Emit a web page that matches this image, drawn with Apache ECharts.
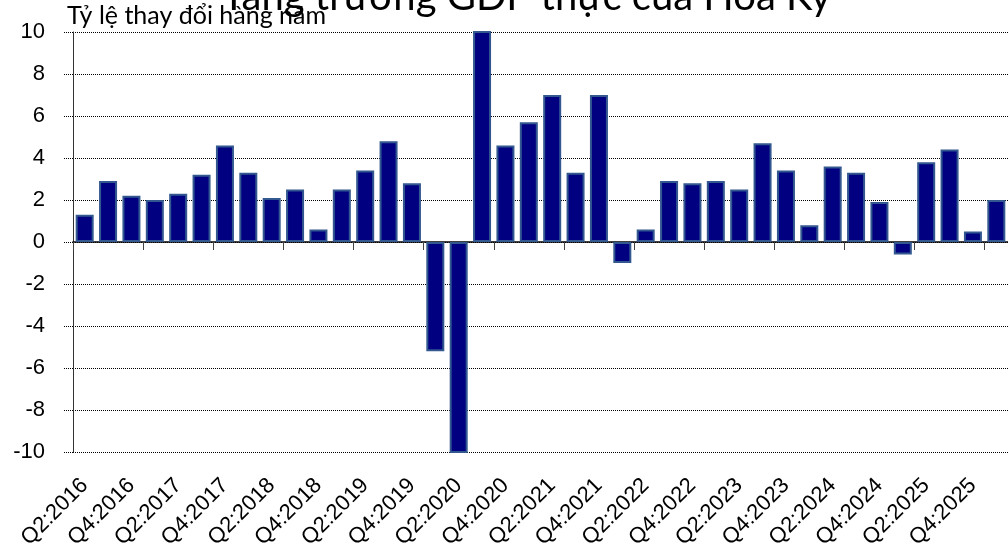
<!DOCTYPE html>
<html>
<head>
<meta charset="utf-8">
<script src="https://cdn.jsdelivr.net/npm/echarts@6/dist/echarts.min.js"></script>
<style>html,body{margin:0;padding:0;background:#fff}#c{width:1008px;height:554px}</style>
</head>
<body>
<div id="c"></div>
<script>
var titleText = 'Tăng trưởng GDP thực của Hoa Kỳ';
var yAxisTitle = 'Tỷ lệ thay đổi hàng năm';
var quarters = [
  'Q2:2016','Q3:2016','Q4:2016','Q1:2017','Q2:2017','Q3:2017','Q4:2017','Q1:2018',
  'Q2:2018','Q3:2018','Q4:2018','Q1:2019','Q2:2019','Q3:2019','Q4:2019','Q1:2020',
  'Q2:2020','Q3:2020','Q4:2020','Q1:2021','Q2:2021','Q3:2021','Q4:2021','Q1:2022',
  'Q2:2022','Q3:2022','Q4:2022','Q1:2023','Q2:2023','Q3:2023','Q4:2023','Q1:2024',
  'Q2:2024','Q3:2024','Q4:2024','Q1:2025','Q2:2025','Q3:2025','Q4:2025','Q1:2026'
];
var gdpGrowth = [
  1.3, 2.9, 2.2, 2.0, 2.3, 3.2, 4.6, 3.3,
  2.1, 2.5, 0.6, 2.5, 3.4, 4.8, 2.8, -5.2,
  -28.0, 35.0, 4.6, 5.7, 7.0, 3.3, 7.0, -1.0,
  0.6, 2.9, 2.8, 2.9, 2.5, 4.7, 3.4, 0.8,
  3.6, 3.3, 1.9, -0.6, 3.8, 4.4, 0.5, 2.0
];
var yMin = -10, yMax = 10, yStep = 2;

var chart = echarts.init(document.getElementById('c'), null, {renderer: 'canvas'});
chart.setOption({
  animation: false,
  backgroundColor: '#fff',
  graphic: [
    {type: 'text', left: 222, top: -23, silent: true,
     style: {text: titleText, font: '40px Lato', fill: '#000'}},
    {type: 'text', left: 67, top: 3, silent: true,
     style: {text: yAxisTitle, font: '25px Lato', fill: '#000'}}
  ],
  grid: {left: 73, top: 32, width: 944, height: 420},
  xAxis: [
    {
      type: 'category', data: quarters, position: 'bottom',
      axisLine: {onZero: true, lineStyle: {color: '#000', width: 1.5}},
      axisTick: {show: true, length: 8, alignWithLabel: false, lineStyle: {color: '#444', width: 1}},
      axisLabel: {show: false},
      splitLine: {show: false}
    },
    {
      type: 'category', data: quarters, position: 'bottom', gridIndex: 0,
      axisLine: {show: false, onZero: false},
      axisTick: {show: false},
      axisLabel: {show: true, interval: 1, rotate: 45, margin: 30,
                  fontFamily: 'Liberation Sans', fontSize: 22, color: '#000'},
      splitLine: {show: false}
    }
  ],
  yAxis: {
    type: 'value', min: yMin, max: yMax, interval: yStep,
    axisLine: {show: true, onZero: false, lineStyle: {color: '#333', width: 1}},
    axisTick: {show: true, length: 9, lineStyle: {color: '#000', type: 'dotted'}},
    axisLabel: {margin: 28, fontFamily: 'Liberation Sans', fontSize: 22, color: '#000'},
    splitLine: {show: true, lineStyle: {color: '#000', type: 'dotted', width: 1}}
  },
  series: [{
    type: 'bar', xAxisIndex: 0, data: gdpGrowth, barWidth: 18, clip: true,
    itemStyle: {color: '#000080', borderColor: '#33578f', borderWidth: 2}
  }]
});
</script>
</body>
</html>
